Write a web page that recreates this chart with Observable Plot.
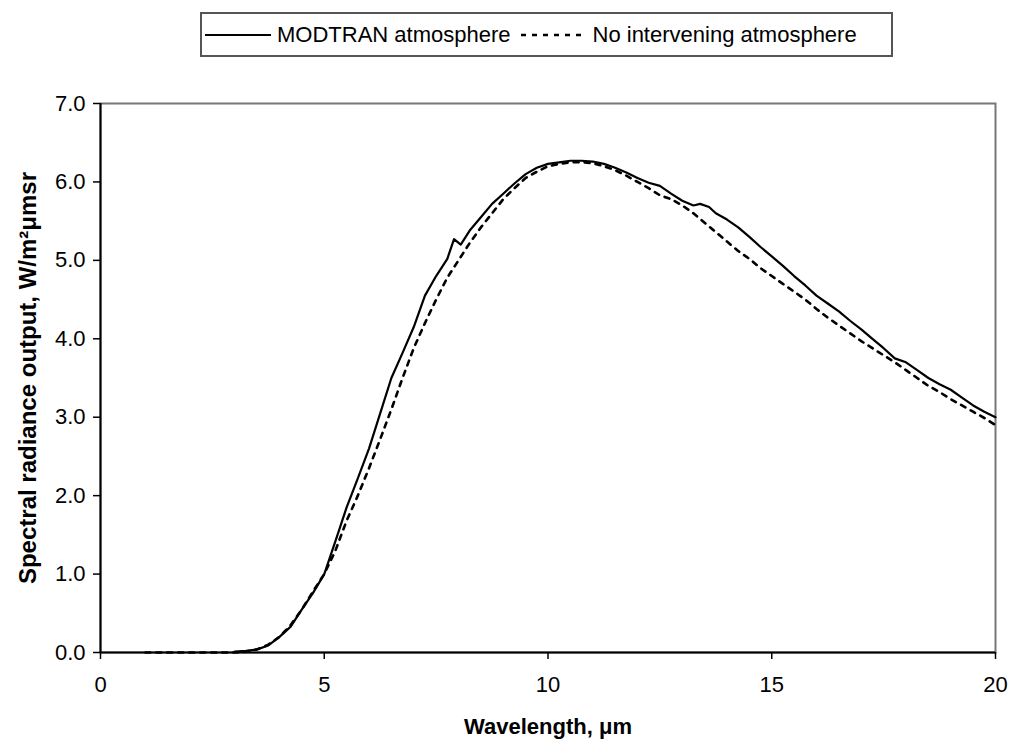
<!DOCTYPE html>
<html>
<head>
<meta charset="utf-8">
<script src="https://cdn.jsdelivr.net/npm/d3@7"></script>
<script src="https://cdn.jsdelivr.net/npm/@observablehq/plot@0.6"></script>
<style>
  html, body { margin: 0; padding: 0; background: #fff; }
  body { width: 1009px; height: 742px; position: relative; overflow: hidden; font-family: "Liberation Sans", Arial, sans-serif; }
  #legend { position: absolute; left: 200px; top: 12px; width: 689px; height: 41px; border: 2px solid #555; display: flex; align-items: center; font-size: 22px; color: #000; white-space: nowrap; }
  #legend svg { display: block; }
  #chart { position: absolute; left: 0; top: 70px; }
  g[aria-label="x-axis label"] text { font-weight: bold; font-size: 22px; }
  g[aria-label="y-axis label"] text { font-weight: bold; font-size: 24px; }
</style>
</head>
<body>
<div id="legend"></div>
<div id="chart"></div>
<script>
// ---- data ----
const seriesNames = ["MODTRAN atmosphere", "No intervening atmosphere"];

const modtranX = [3.0, 3.25, 3.5, 3.75, 4.0, 4.25, 4.5, 4.75, 5.0, 5.25, 5.5, 5.75, 6.0, 6.25, 6.5, 6.75, 7.0, 7.25, 7.5, 7.75, 7.9, 8.05, 8.25, 8.5, 8.75, 9.0, 9.25, 9.5, 9.75, 10.0, 10.25, 10.5, 10.75, 11.0, 11.25, 11.5, 11.75, 12.0, 12.25, 12.5, 12.75, 13.0, 13.25, 13.4, 13.6, 13.75, 14.0, 14.25, 14.5, 14.75, 15.0, 15.25, 15.5, 15.75, 16.0, 16.25, 16.5, 16.75, 17.0, 17.25, 17.5, 17.75, 18.0, 18.25, 18.5, 18.75, 19.0, 19.25, 19.5, 19.75, 20.0];
const modtranY = [0.01, 0.02, 0.04, 0.09, 0.2, 0.33, 0.55, 0.76, 1.0, 1.42, 1.85, 2.22, 2.6, 3.05, 3.5, 3.82, 4.15, 4.55, 4.8, 5.02, 5.27, 5.2, 5.38, 5.55, 5.72, 5.85, 5.98, 6.1, 6.18, 6.23, 6.25, 6.27, 6.27, 6.26, 6.23, 6.18, 6.12, 6.05, 5.99, 5.95, 5.85, 5.76, 5.7, 5.72, 5.68, 5.6, 5.52, 5.42, 5.3, 5.17, 5.05, 4.93, 4.8, 4.68, 4.55, 4.45, 4.35, 4.23, 4.12, 4.0, 3.88, 3.75, 3.7, 3.6, 3.5, 3.42, 3.35, 3.25, 3.15, 3.07, 3.0];

const noAtmX = [1.0, 1.5, 2.0, 2.5, 3.0, 3.25, 3.5, 3.75, 4.0, 4.25, 4.5, 4.75, 5.0, 5.25, 5.5, 5.75, 6.0, 6.25, 6.5, 6.75, 7.0, 7.25, 7.5, 7.75, 8.0, 8.25, 8.5, 8.75, 9.0, 9.25, 9.5, 9.75, 10.0, 10.25, 10.5, 10.75, 11.0, 11.25, 11.5, 11.75, 12.0, 12.25, 12.5, 12.75, 13.0, 13.25, 13.5, 13.75, 14.0, 14.25, 14.5, 14.75, 15.0, 15.25, 15.5, 15.75, 16.0, 16.25, 16.5, 16.75, 17.0, 17.25, 17.5, 17.75, 18.0, 18.25, 18.5, 18.75, 19.0, 19.25, 19.5, 19.75, 20.0];
const noAtmY = [0.0, 0.0, 0.0, 0.0, 0.0, 0.01, 0.04, 0.1, 0.2, 0.35, 0.55, 0.78, 1.0, 1.3, 1.68, 2.0, 2.35, 2.72, 3.1, 3.5, 3.88, 4.2, 4.5, 4.78, 5.0, 5.22, 5.42, 5.6, 5.78, 5.92, 6.05, 6.13, 6.2, 6.23, 6.25, 6.25, 6.24, 6.2, 6.15, 6.08, 6.0, 5.92, 5.83, 5.78, 5.7, 5.6, 5.48, 5.36, 5.24, 5.12, 5.02, 4.9, 4.8, 4.7, 4.6, 4.5, 4.38, 4.27, 4.17, 4.07, 3.97, 3.88, 3.79, 3.7, 3.6, 3.5, 3.4, 3.32, 3.23, 3.15, 3.07, 2.99, 2.9];

const xTicks = [0, 5, 10, 15, 20];
const yTicks = [0, 1, 2, 3, 4, 5, 6, 7];
const xLabel = "Wavelength, μm";
const yLabel = "Spectral radiance output, W/m²μmsr";

// ---- build tables ----
const modtran = modtranX.map((x, i) => ({x, y: modtranY[i]}));
const noAtm = noAtmX.map((x, i) => ({x, y: noAtmY[i]}));

const chart = Plot.plot({
  width: 1009,
  height: 672,
  marginTop: 33,
  marginBottom: 90,
  marginLeft: 100,
  marginRight: 14,
  x: {domain: [0, 20]},
  y: {domain: [0, 7]},
  style: {fontFamily: "'Liberation Sans', Arial, sans-serif", fontSize: "22px", color: "#000", background: "#fff"},
  marks: [
    Plot.frame({stroke: "#777", strokeWidth: 2}),
    Plot.axisX({ticks: xTicks, tickSize: 7, tickPadding: 17, tickFormat: d => String(d), stroke: "#000", strokeWidth: 1.5,
      label: xLabel, labelAnchor: "center", labelArrow: "none", labelOffset: 81, fontSize: 22}),
    Plot.axisY({ticks: yTicks, tickSize: 7, tickPadding: 8, tickFormat: d3.format(".1f"), stroke: "#000", strokeWidth: 1.5,
      label: yLabel, labelAnchor: "center", labelArrow: "none", labelOffset: 82, fontSize: 22}),
    Plot.ruleX([0], {stroke: "#000", strokeWidth: 2}),
    Plot.ruleY([0], {stroke: "#000", strokeWidth: 2}),
    Plot.line(noAtm, {x: "x", y: "y", stroke: "#000", strokeWidth: 2.6, strokeDasharray: "5,6"}),
    Plot.line(modtran, {x: "x", y: "y", stroke: "#000", strokeWidth: 2.2})
  ]
});
document.getElementById("chart").appendChild(chart);

// ---- legend ----
const legend = document.getElementById("legend");
const styles = [{dash: null, w: 2.2}, {dash: "5,6", w: 2.6}];
seriesNames.forEach((name, i) => {
  const item = document.createElement("div");
  item.style.display = "flex";
  item.style.alignItems = "center";
  item.style.marginLeft = i === 0 ? "3px" : "10px";
  const sw = d3.create("svg").attr("width", 66).attr("height", 10);
  sw.append("line").attr("x1", 0).attr("x2", 66).attr("y1", 5).attr("y2", 5)
    .attr("stroke", "#000").attr("stroke-width", styles[i].w)
    .attr("stroke-dasharray", styles[i].dash);
  item.appendChild(sw.node());
  const t = document.createElement("span");
  t.textContent = name;
  t.style.marginLeft = "6px";
  item.appendChild(t);
  legend.appendChild(item);
});
</script>
</body>
</html>
